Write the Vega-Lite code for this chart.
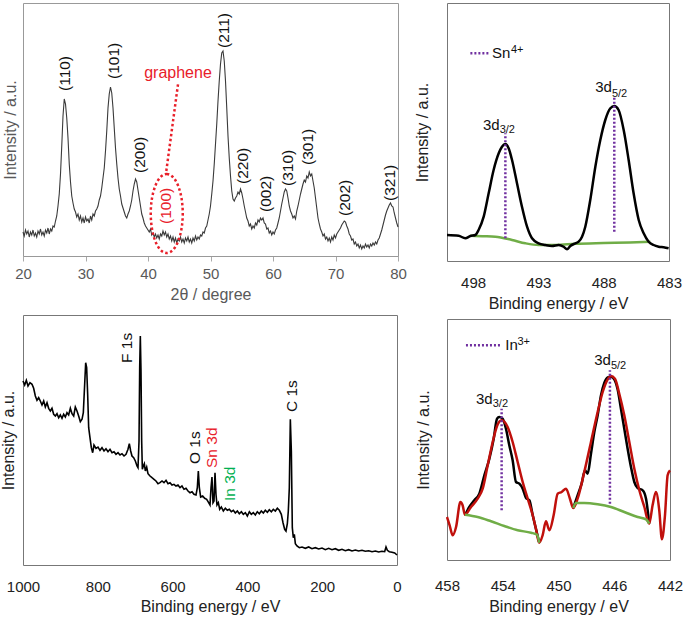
{
"$schema": "https://vega.github.io/schema/vega-lite/v6.json",
"padding": {"left": 0, "top": 2, "right": 0, "bottom": 0},
"background": "white",
"config": {
  "font": "Liberation Sans",
  "view": {"stroke": "#777", "strokeWidth": 1},
  "axis": {"labelFontSize": 15, "titleFontSize": 16, "titleFontWeight": "normal", "labelColor": "#222", "titleColor": "#222", "grid": false, "labelFlush": false, "labelOverlap": false}
},
"datasets": {
  "xrd": [
{"x":20.0,"y":24},{"x":20.2,"y":20},{"x":20.4,"y":26},{"x":20.6,"y":22},{"x":20.8,"y":25},{"x":21.0,"y":19},{"x":21.2,"y":24},{"x":21.4,"y":21},{"x":21.6,"y":26},{"x":21.8,"y":20},
{"x":22.0,"y":23},{"x":22.2,"y":19},{"x":22.4,"y":25},{"x":22.6,"y":22},{"x":22.8,"y":27},{"x":23.0,"y":21},{"x":23.2,"y":24},{"x":23.4,"y":20},{"x":23.6,"y":26},{"x":23.8,"y":23},
{"x":24.0,"y":28},{"x":24.2,"y":22},{"x":24.4,"y":27},{"x":24.6,"y":25},{"x":24.8,"y":30},{"x":25.0,"y":29},{"x":25.2,"y":35},{"x":25.4,"y":40},{"x":25.6,"y":50},{"x":25.8,"y":62},
{"x":26.0,"y":82},{"x":26.2,"y":110},{"x":26.4,"y":140},{"x":26.6,"y":157},{"x":26.8,"y":152},{"x":27.0,"y":138},{"x":27.2,"y":118},{"x":27.4,"y":92},{"x":27.6,"y":74},{"x":27.8,"y":60},
{"x":28.0,"y":53},{"x":28.2,"y":47},{"x":28.4,"y":44},{"x":28.6,"y":39},{"x":28.8,"y":42},{"x":29.0,"y":36},{"x":29.2,"y":40},{"x":29.4,"y":34},{"x":29.6,"y":38},{"x":29.8,"y":33},
{"x":30.0,"y":39},{"x":30.2,"y":35},{"x":30.4,"y":37},{"x":30.6,"y":33},{"x":30.8,"y":40},{"x":31.0,"y":36},{"x":31.2,"y":42},{"x":31.4,"y":40},{"x":31.6,"y":45},{"x":31.8,"y":47},
{"x":32.0,"y":50},{"x":32.2,"y":56},{"x":32.4,"y":60},{"x":32.6,"y":68},{"x":32.8,"y":78},{"x":33.0,"y":88},{"x":33.2,"y":105},{"x":33.4,"y":125},{"x":33.6,"y":148},{"x":33.8,"y":162},
{"x":34.0,"y":169},{"x":34.2,"y":163},{"x":34.4,"y":148},{"x":34.6,"y":128},{"x":34.8,"y":108},{"x":35.0,"y":92},{"x":35.2,"y":78},{"x":35.4,"y":67},{"x":35.6,"y":60},{"x":35.8,"y":52},
{"x":36.0,"y":48},{"x":36.2,"y":44},{"x":36.4,"y":40},{"x":36.6,"y":38},{"x":36.8,"y":42},{"x":37.0,"y":45},{"x":37.2,"y":50},{"x":37.4,"y":56},{"x":37.6,"y":65},{"x":37.8,"y":72},
{"x":38.0,"y":77},{"x":38.2,"y":74},{"x":38.4,"y":66},{"x":38.6,"y":58},{"x":38.8,"y":50},{"x":39.0,"y":42},{"x":39.2,"y":38},{"x":39.4,"y":33},{"x":39.6,"y":30},{"x":39.8,"y":28},
{"x":40.0,"y":26},{"x":40.2,"y":24},{"x":40.4,"y":27},{"x":40.6,"y":21},{"x":40.8,"y":23},{"x":41.0,"y":19},{"x":41.2,"y":22},{"x":41.4,"y":18},{"x":41.6,"y":21},{"x":41.8,"y":17},
{"x":42.0,"y":22},{"x":42.2,"y":20},{"x":42.4,"y":25},{"x":42.6,"y":21},{"x":42.8,"y":24},{"x":43.0,"y":19},{"x":43.2,"y":22},{"x":43.4,"y":17},{"x":43.6,"y":20},{"x":43.8,"y":15},
{"x":44.0,"y":19},{"x":44.2,"y":14},{"x":44.4,"y":18},{"x":44.6,"y":13},{"x":44.8,"y":17},{"x":45.0,"y":15},{"x":45.2,"y":19},{"x":45.4,"y":14},{"x":45.6,"y":17},{"x":45.8,"y":13},
{"x":46.0,"y":18},{"x":46.2,"y":15},{"x":46.4,"y":19},{"x":46.6,"y":14},{"x":46.8,"y":17},{"x":47.0,"y":13},{"x":47.2,"y":18},{"x":47.4,"y":15},{"x":47.6,"y":20},{"x":47.8,"y":16},
{"x":48.0,"y":19},{"x":48.2,"y":17},{"x":48.4,"y":21},{"x":48.6,"y":20},{"x":48.8,"y":24},{"x":49.0,"y":23},{"x":49.2,"y":28},{"x":49.4,"y":30},{"x":49.6,"y":36},{"x":49.8,"y":42},
{"x":50.0,"y":50},{"x":50.2,"y":62},{"x":50.4,"y":75},{"x":50.6,"y":92},{"x":50.8,"y":112},{"x":51.0,"y":132},{"x":51.2,"y":155},{"x":51.4,"y":175},{"x":51.6,"y":192},{"x":51.8,"y":203},
{"x":52.0,"y":205},{"x":52.2,"y":195},{"x":52.4,"y":175},{"x":52.6,"y":148},{"x":52.8,"y":120},{"x":53.0,"y":98},{"x":53.2,"y":80},{"x":53.4,"y":65},{"x":53.6,"y":57},{"x":53.8,"y":55},
{"x":54.0,"y":58},{"x":54.2,"y":60},{"x":54.4,"y":64},{"x":54.6,"y":62},{"x":54.8,"y":67},{"x":55.0,"y":63},{"x":55.2,"y":57},{"x":55.4,"y":50},{"x":55.6,"y":44},{"x":55.8,"y":38},
{"x":56.0,"y":35},{"x":56.2,"y":30},{"x":56.4,"y":32},{"x":56.6,"y":27},{"x":56.8,"y":30},{"x":57.0,"y":28},{"x":57.2,"y":33},{"x":57.4,"y":31},{"x":57.6,"y":36},{"x":57.8,"y":34},
{"x":58.0,"y":38},{"x":58.2,"y":36},{"x":58.4,"y":38},{"x":58.6,"y":33},{"x":58.8,"y":32},{"x":59.0,"y":27},{"x":59.2,"y":28},{"x":59.4,"y":23},{"x":59.6,"y":25},{"x":59.8,"y":21},
{"x":60.0,"y":24},{"x":60.2,"y":22},{"x":60.4,"y":26},{"x":60.6,"y":28},{"x":60.8,"y":33},{"x":61.0,"y":38},{"x":61.2,"y":45},{"x":61.4,"y":52},{"x":61.6,"y":58},{"x":61.8,"y":64},
{"x":62.0,"y":67},{"x":62.2,"y":65},{"x":62.4,"y":58},{"x":62.6,"y":50},{"x":62.8,"y":45},{"x":63.0,"y":42},{"x":63.2,"y":38},{"x":63.4,"y":40},{"x":63.6,"y":37},{"x":63.8,"y":45},
{"x":64.0,"y":50},{"x":64.2,"y":56},{"x":64.4,"y":62},{"x":64.6,"y":67},{"x":64.8,"y":72},{"x":65.0,"y":76},{"x":65.2,"y":74},{"x":65.4,"y":80},{"x":65.6,"y":78},{"x":65.8,"y":84},
{"x":66.0,"y":80},{"x":66.2,"y":82},{"x":66.4,"y":75},{"x":66.6,"y":68},{"x":66.8,"y":58},{"x":67.0,"y":48},{"x":67.2,"y":38},{"x":67.4,"y":32},{"x":67.6,"y":27},{"x":67.8,"y":24},
{"x":68.0,"y":20},{"x":68.2,"y":22},{"x":68.4,"y":17},{"x":68.6,"y":19},{"x":68.8,"y":15},{"x":69.0,"y":18},{"x":69.2,"y":14},{"x":69.4,"y":19},{"x":69.6,"y":16},{"x":69.8,"y":21},
{"x":70.0,"y":18},{"x":70.2,"y":22},{"x":70.4,"y":24},{"x":70.6,"y":26},{"x":70.8,"y":28},{"x":71.0,"y":31},{"x":71.2,"y":33},{"x":71.4,"y":35},{"x":71.6,"y":34},{"x":71.8,"y":30},
{"x":72.0,"y":27},{"x":72.2,"y":22},{"x":72.4,"y":20},{"x":72.6,"y":16},{"x":72.8,"y":17},{"x":73.0,"y":12},{"x":73.2,"y":14},{"x":73.4,"y":10},{"x":73.6,"y":12},{"x":73.8,"y":8},
{"x":74.0,"y":11},{"x":74.2,"y":7},{"x":74.4,"y":10},{"x":74.6,"y":8},{"x":74.8,"y":12},{"x":75.0,"y":9},{"x":75.2,"y":11},{"x":75.4,"y":8},{"x":75.6,"y":12},{"x":75.8,"y":10},
{"x":76.0,"y":13},{"x":76.2,"y":11},{"x":76.4,"y":14},{"x":76.6,"y":12},{"x":76.8,"y":16},{"x":77.0,"y":18},{"x":77.2,"y":22},{"x":77.4,"y":26},{"x":77.6,"y":31},{"x":77.8,"y":36},
{"x":78.0,"y":41},{"x":78.2,"y":45},{"x":78.4,"y":48},{"x":78.6,"y":51},{"x":78.8,"y":53},{"x":79.0,"y":50},{"x":79.2,"y":49},{"x":79.4,"y":43},{"x":79.6,"y":38},{"x":79.8,"y":33},{"x":80.0,"y":29}
  ],
  "xrdLabels": [
{"x":26.67,"y":165,"s":"(110)"},{"x":34.5,"y":177,"s":"(101)"},{"x":38.67,"y":83,"s":"(200)"},{"x":52.1,"y":208,"s":"(211)"},{"x":55.2,"y":72,"s":"(220)"},
{"x":58.8,"y":44,"s":"(002)"},{"x":62.4,"y":70,"s":"(310)"},{"x":65.6,"y":91,"s":"(301)"},{"x":71.47,"y":40,"s":"(202)"},{"x":78.67,"y":55,"s":"(321)"}
  ],
  "survey": [
{"x":1000.0,"y":184},{"x":995.5,"y":180},{"x":991.1,"y":184.7},{"x":986.6,"y":179},{"x":981.3,"y":182.3},{"x":975.9,"y":180.7},{"x":971.5,"y":176.7},{"x":967.0,"y":169},{"x":962.6,"y":164.7},{"x":958.1,"y":167.3},
{"x":953.7,"y":164},{"x":949.2,"y":160},{"x":944.7,"y":164},{"x":940.3,"y":158},{"x":935.8,"y":162.3},{"x":931.4,"y":156.7},{"x":926.9,"y":154},{"x":922.5,"y":156.7},{"x":918.0,"y":150.7},{"x":913.5,"y":149},
{"x":909.1,"y":151.3},{"x":904.6,"y":147.3},{"x":900.2,"y":150},{"x":895.7,"y":146.7},{"x":891.3,"y":150.7},{"x":886.8,"y":148},{"x":882.4,"y":152.3},{"x":877.9,"y":150},{"x":873.4,"y":156.7},{"x":869.0,"y":151.3},
{"x":864.5,"y":149},{"x":860.1,"y":158},{"x":855.6,"y":154},{"x":851.2,"y":149},{"x":846.7,"y":143.3},{"x":842.2,"y":145.7},{"x":838.7,"y":152.3},{"x":835.1,"y":180.7},{"x":832.4,"y":202.3},{"x":829.8,"y":197.3},
{"x":827.1,"y":170.7},{"x":824.4,"y":137.3},{"x":820.9,"y":127.3},{"x":817.3,"y":117.3},{"x":813.7,"y":112.3},{"x":810.2,"y":120},{"x":804.8,"y":116.7},{"x":799.5,"y":118},{"x":794.1,"y":114.7},{"x":788.8,"y":117.3},
{"x":783.4,"y":114},{"x":778.1,"y":116.3},{"x":772.7,"y":113.3},{"x":767.4,"y":115.7},{"x":762.0,"y":112.3},{"x":756.7,"y":113.3},{"x":751.3,"y":110.7},{"x":746.0,"y":112.3},{"x":740.6,"y":110},{"x":735.3,"y":111.3},
{"x":729.9,"y":109},{"x":724.6,"y":110.7},{"x":719.3,"y":115.7},{"x":715.7,"y":121.3},{"x":712.1,"y":114},{"x":708.6,"y":109},{"x":704.1,"y":107.3},{"x":699.6,"y":104},{"x":695.2,"y":99},{"x":692.5,"y":97.3},
{"x":689.8,"y":124},{"x":688.0,"y":197.3},{"x":686.3,"y":229},{"x":684.5,"y":194},{"x":682.7,"y":124},{"x":680.9,"y":95.7},{"x":678.3,"y":99},{"x":675.6,"y":101.3},{"x":672.9,"y":94},{"x":669.3,"y":98},
{"x":665.8,"y":91.3},{"x":660.4,"y":89},{"x":655.1,"y":87.3},{"x":649.7,"y":85.7},{"x":644.4,"y":84},{"x":639.0,"y":81.3},{"x":633.7,"y":82.3},{"x":628.3,"y":84},{"x":623.0,"y":82.3},{"x":617.6,"y":84.7},
{"x":612.3,"y":81.3},{"x":606.9,"y":82.3},{"x":601.6,"y":80},{"x":596.3,"y":80.7},{"x":590.9,"y":79},{"x":585.6,"y":80},{"x":580.2,"y":77.3},{"x":574.9,"y":79},{"x":569.5,"y":75.7},{"x":564.2,"y":76.7},
{"x":558.8,"y":74},{"x":553.5,"y":72.3},{"x":548.1,"y":73.3},{"x":542.8,"y":70.7},{"x":537.4,"y":70},{"x":533.9,"y":77.3},{"x":531.2,"y":94},{"x":528.5,"y":77.3},{"x":525.0,"y":68},{"x":519.6,"y":69},
{"x":514.3,"y":66.7},{"x":508.9,"y":65.7},{"x":503.6,"y":62.3},{"x":500.0,"y":60},{"x":497.3,"y":77.3},{"x":494.7,"y":88},{"x":492.0,"y":62.3},{"x":489.3,"y":64},{"x":486.6,"y":92.3},{"x":484.0,"y":70.7},
{"x":481.3,"y":60},{"x":477.7,"y":62.3},{"x":474.1,"y":55.7},{"x":469.7,"y":58},{"x":464.3,"y":54},{"x":459.0,"y":56.7},{"x":453.7,"y":54.7},{"x":448.3,"y":55.7},{"x":443.0,"y":53.3},{"x":437.6,"y":54.7},
{"x":432.3,"y":52},{"x":426.9,"y":54},{"x":421.6,"y":51.3},{"x":416.2,"y":53.3},{"x":410.9,"y":50.7},{"x":405.5,"y":52.3},{"x":400.2,"y":49},{"x":394.8,"y":53.3},{"x":389.5,"y":50.7},{"x":384.2,"y":52.3},
{"x":378.8,"y":50},{"x":373.5,"y":53.3},{"x":368.1,"y":51.3},{"x":362.8,"y":54},{"x":357.4,"y":52},{"x":352.1,"y":54.7},{"x":346.7,"y":52.7},{"x":341.4,"y":55.3},{"x":336.0,"y":53.3},{"x":330.7,"y":55.7},
{"x":325.3,"y":54},{"x":320.0,"y":56.7},{"x":314.6,"y":54.7},{"x":309.3,"y":50.7},{"x":304.8,"y":42.3},{"x":300.4,"y":35.7},{"x":296.8,"y":34},{"x":293.2,"y":41.3},{"x":290.6,"y":54},{"x":287.9,"y":77.3},
{"x":285.2,"y":145.7},{"x":282.5,"y":114},{"x":279.9,"y":37.3},{"x":277.2,"y":27.3},{"x":274.5,"y":30.7},{"x":271.8,"y":21.3},{"x":267.4,"y":19},{"x":261.1,"y":17.3},{"x":254.0,"y":18},{"x":245.1,"y":16.7},
{"x":236.2,"y":18},{"x":227.3,"y":16.3},{"x":218.4,"y":17.3},{"x":209.4,"y":16},{"x":200.5,"y":17},{"x":191.6,"y":15.3},{"x":182.7,"y":16.7},{"x":173.8,"y":15.3},{"x":164.9,"y":16.3},{"x":156.0,"y":14.7},
{"x":147.1,"y":15.7},{"x":138.2,"y":14.3},{"x":129.2,"y":15.3},{"x":120.3,"y":14},{"x":111.4,"y":15},{"x":102.5,"y":14},{"x":93.6,"y":14.7},{"x":84.7,"y":13.7},{"x":75.8,"y":14.3},{"x":66.8,"y":13.3},
{"x":57.9,"y":14},{"x":49.0,"y":13},{"x":40.1,"y":13.7},{"x":33.0,"y":13.3},{"x":29.4,"y":18},{"x":25.8,"y":14.7},{"x":20.5,"y":13.3},{"x":13.4,"y":12.7},{"x":6.2,"y":12},{"x":0.0,"y":10}
  ],
  "surveyLabels": [
{"x":721.9,"y":202,"s":"F 1s","c":"k"},{"x":539.2,"y":101,"s":"O 1s","c":"k"},{"x":494.7,"y":97,"s":"Sn 3d","c":"r"},{"x":445.6,"y":64,"s":"In 3d","c":"g"},{"x":280.7,"y":153,"s":"C 1s","c":"k"}
  ],
  "sn": [
{"x":500.0,"y":26},{"x":499.11,"y":25.3},{"x":498.6,"y":22.7},{"x":498.21,"y":25},{"x":497.83,"y":26},{"x":497.58,"y":31},{"x":497.19,"y":44.3},{"x":496.81,"y":67.7},{"x":496.43,"y":91},{"x":496.04,"y":107.7},
{"x":495.79,"y":114.3},{"x":495.53,"y":117},{"x":495.28,"y":112.7},{"x":495.02,"y":101},{"x":494.64,"y":77.7},{"x":494.26,"y":54.3},{"x":493.87,"y":34.3},{"x":493.49,"y":22.7},{"x":492.98,"y":17.7},{"x":492.47,"y":16},
{"x":491.96,"y":15},{"x":491.45,"y":16},{"x":491.07,"y":14.3},{"x":490.81,"y":11.7},{"x":490.56,"y":15},{"x":490.17,"y":17.7},{"x":489.92,"y":19.3},{"x":489.66,"y":24.3},{"x":489.41,"y":34.3},{"x":489.03,"y":61},
{"x":488.64,"y":94.3},{"x":488.26,"y":121},{"x":487.88,"y":141},{"x":487.49,"y":152.7},{"x":487.19,"y":155},{"x":486.86,"y":151},{"x":486.47,"y":131},{"x":486.09,"y":101},{"x":485.71,"y":67.7},{"x":485.32,"y":41},
{"x":484.94,"y":27.7},{"x":484.56,"y":19.3},{"x":484.18,"y":16},{"x":483.79,"y":14.3},{"x":483.41,"y":13.7},{"x":483.03,"y":12.7}
  ],
  "snBg": [
{"x":498.21,"y":25.3},{"x":497.3,"y":24.8},{"x":496.3,"y":24.3},{"x":495.02,"y":21},{"x":494.0,"y":17.7},{"x":492.98,"y":16},{"x":491.7,"y":16},{"x":490.17,"y":17.2},{"x":488.0,"y":18},{"x":486.0,"y":18.6},{"x":484.43,"y":19.3}
  ],
  "snRules": [{"x":495.53,"y":22.7,"y2":127.7},{"x":487.19,"y":29.3,"y2":164.3}],
  "snLeg": [{"x":498.21,"x2":496.81,"y":207.7}],
  "snMain": [{"x":495.97,"y":131,"s":"3d"},{"x":487.37,"y":169.3,"s":"3d"}],
  "snSub": [{"x":495.97,"y":127.7,"s":"3/2"},{"x":487.37,"y":164.3,"s":"5/2"},{"x":495.1,"y":207.7,"s":"4+"}],
  "snLegText": [{"x":496.55,"y":202.7,"s":"Sn"}],
  "inRed": [
{"x":458.0,"y":43},{"x":457.81,"y":34.7},{"x":457.59,"y":24.7},{"x":457.35,"y":33},{"x":457.04,"y":58},{"x":456.88,"y":54.7},{"x":456.71,"y":45.3},{"x":456.28,"y":53},{"x":455.8,"y":61.3},{"x":455.44,"y":71.3},
{"x":455.08,"y":94.7},{"x":454.72,"y":118},{"x":454.41,"y":134},{"x":454.08,"y":139.7},{"x":453.65,"y":133},{"x":453.29,"y":118},{"x":452.93,"y":98},{"x":452.57,"y":78},{"x":452.21,"y":61.3},{"x":451.85,"y":44.7},
{"x":451.62,"y":31.3},{"x":451.38,"y":17.3},{"x":451.14,"y":24.7},{"x":450.9,"y":38.7},{"x":450.66,"y":29.7},{"x":450.35,"y":44.7},{"x":450.06,"y":66.3},{"x":449.77,"y":68},{"x":449.46,"y":71.3},{"x":449.18,"y":61.3},
{"x":448.94,"y":52},{"x":448.63,"y":61.3},{"x":448.15,"y":88},{"x":447.67,"y":118},{"x":447.19,"y":148},{"x":446.83,"y":168},{"x":446.47,"y":180.7},{"x":446.24,"y":184},{"x":445.95,"y":181.3},{"x":445.64,"y":166.3},
{"x":445.28,"y":144.7},{"x":444.92,"y":118},{"x":444.56,"y":91.3},{"x":444.2,"y":69.7},{"x":443.84,"y":53},{"x":443.49,"y":36.3},{"x":443.25,"y":54.7},{"x":443.01,"y":68},{"x":442.77,"y":49.7},{"x":442.58,"y":20.7},
{"x":442.36,"y":44.7},{"x":442.17,"y":84.7},{"x":442.0,"y":89.7}
  ],
  "inBlack": [
{"x":456.71,"y":44.7,"g":1},{"x":456.4,"y":53,"g":1},{"x":456.04,"y":59.7,"g":1},{"x":455.68,"y":66.3,"g":1},{"x":455.32,"y":84.7,"g":1},{"x":454.96,"y":101.3,"g":1},{"x":454.65,"y":121.3,"g":1},{"x":454.41,"y":141.3,"g":1},{"x":454.25,"y":143,"g":1},{"x":454.01,"y":141.3,"g":1},
{"x":453.77,"y":131.3,"g":1},{"x":453.53,"y":114.7,"g":1},{"x":453.29,"y":99.7,"g":1},{"x":453.05,"y":78,"g":1},{"x":452.81,"y":76.3,"g":1},{"x":452.57,"y":71.3,"g":1},{"x":452.33,"y":62,"g":1},{"x":452.09,"y":59.7,"g":1},{"x":451.85,"y":44.7,"g":1},{"x":451.62,"y":31.3,"g":1},{"x":451.38,"y":17.3,"g":1},
{"x":448.94,"y":52,"g":2},{"x":448.63,"y":64.7,"g":2},{"x":448.34,"y":76.3,"g":2},{"x":448.1,"y":89.7,"g":2},{"x":447.91,"y":86.3,"g":2},{"x":447.67,"y":106.3,"g":2},{"x":447.43,"y":128,"g":2},{"x":447.19,"y":144.7,"g":2},{"x":446.95,"y":164.7,"g":2},{"x":446.71,"y":177.3,"g":2},
{"x":446.47,"y":182.7,"g":2},{"x":446.24,"y":183.3,"g":2},{"x":446.0,"y":180.7,"g":2},{"x":445.76,"y":170.7,"g":2},{"x":445.52,"y":151.3,"g":2},{"x":445.28,"y":131.3,"g":2},{"x":445.04,"y":111.3,"g":2},{"x":444.8,"y":93,"g":2},{"x":444.56,"y":78,"g":2},{"x":444.32,"y":72,"g":2},
{"x":443.96,"y":69.7,"g":2},{"x":443.72,"y":61.3,"g":2},{"x":443.49,"y":36.3,"g":2}
  ],
  "inBg": [
{"x":456.71,"y":45.3,"g":1},{"x":455.8,"y":43,"g":1},{"x":454.84,"y":38.7,"g":1},{"x":453.89,"y":34,"g":1},{"x":452.93,"y":29.7,"g":1},{"x":451.97,"y":27.3,"g":1},{"x":451.54,"y":25.3,"g":1},{"x":451.38,"y":17.3,"g":1},
{"x":448.94,"y":52,"g":2},{"x":448.75,"y":57,"g":2},{"x":448.15,"y":57,"g":2},{"x":447.19,"y":55.7,"g":2},{"x":446.24,"y":53,"g":2},{"x":445.28,"y":48,"g":2},{"x":444.32,"y":43,"g":2},{"x":443.72,"y":40.7,"g":2},{"x":443.49,"y":36.3,"g":2}
  ],
  "inRules": [{"x":454.08,"y":49.7,"y2":151.3},{"x":446.31,"y":56.3,"y2":189.7}],
  "inLeg": [{"x":456.64,"x2":454.13,"y":214.7}],
  "inMain": [{"x":454.72,"y":156.3,"s":"3d"},{"x":446.24,"y":194.7,"s":"3d"}],
  "inSub": [{"x":454.72,"y":153,"s":"3/2"},{"x":446.24,"y":191.3,"s":"5/2"},{"x":452.95,"y":215.3,"s":"3+"}],
  "inLegText": [{"x":453.82,"y":209.7,"s":"In"}]
},
"hconcat": [
  {
    "spacing": 11,
    "vconcat": [
      {
        "width": 375, "height": 253,
        "view": {"stroke": "#999"},
        "encoding": {
          "x": {"field": "x", "type": "quantitative", "scale": {"domain": [20, 80], "nice": false, "zero": false},
                "axis": {"title": "2θ / degree", "values": [20, 30, 40, 50, 60, 70, 80], "tickSize": 5, "tickColor": "#aaa", "domainColor": "#999", "labelPadding": 5, "titlePadding": 5, "labelColor": "#595959", "titleColor": "#595959"}},
          "y": {"field": "y", "type": "quantitative", "scale": {"domain": [0, 253], "nice": false},
                "axis": {"title": "Intensity / a.u.", "labels": false, "ticks": false, "domain": false, "titlePadding": 4.5, "titleColor": "#595959"}}
        },
        "layer": [
          {"data": {"name": "xrd"}, "mark": {"type": "line", "color": "#3a3a3a", "strokeWidth": 1.1}},
          {"data": {"name": "xrdLabels"}, "mark": {"type": "text", "angle": 270, "align": "left", "baseline": "middle", "fontSize": 15.5, "color": "#111"}, "encoding": {"text": {"field": "s"}}},
          {"data": {"values": [{"x": 42.93, "y": 85}, {"x": 44.8, "y": 171.7}]}, "mark": {"type": "line", "color": "#e8202a", "strokeWidth": 2.5, "strokeDash": [2.5, 2.5]}},
          {"data": {"values": [{"x": 43.0, "y": 42.5}]}, "mark": {"type": "point", "shape": "M 0 -1 A 0.405 1 0 1 1 0 1 A 0.405 1 0 1 1 0 -1 Z", "size": 6241, "filled": false, "stroke": "#e8202a", "strokeWidth": 2.5, "strokeDash": [2.5, 2.5], "opacity": 1}},
          {"data": {"values": [{"x": 42.93, "y": 32, "s": "(100)"}]}, "mark": {"type": "text", "angle": 270, "align": "left", "baseline": "middle", "fontSize": 15.5, "color": "#e8202a"}, "encoding": {"text": {"field": "s"}}},
          {"data": {"values": [{"x": 44.8, "y": 183, "s": "graphene"}]}, "mark": {"type": "text", "align": "center", "baseline": "middle", "fontSize": 16, "color": "#e8202a"}, "encoding": {"text": {"field": "s"}}}
        ]
      },
      {
        "width": 374, "height": 250,
        "encoding": {
          "x": {"field": "x", "type": "quantitative", "scale": {"domain": [0, 1000], "reverse": true, "nice": false},
                "axis": {"title": "Binding energy / eV", "format": "d", "values": [1000, 800, 600, 400, 200, 0], "ticks": false, "domain": false, "labelPadding": 14, "titlePadding": 4}},
          "y": {"field": "y", "type": "quantitative", "scale": {"domain": [0, 250], "nice": false},
                "axis": {"title": "Intensity / a.u.", "labels": false, "ticks": false, "domain": false, "titlePadding": 6.5}}
        },
        "layer": [
          {"data": {"name": "survey"}, "mark": {"type": "line", "color": "#000", "strokeWidth": 1.6}},
          {"data": {"name": "surveyLabels"}, "mark": {"type": "text", "angle": 270, "align": "left", "baseline": "middle", "fontSize": 15.5},
           "encoding": {"text": {"field": "s"}, "color": {"field": "c", "type": "nominal", "scale": {"domain": ["k", "r", "g"], "range": ["#111111", "#e8202a", "#00b050"]}, "legend": null}}}
        ]
      }
    ]
  },
  {
    "spacing": 6,
    "vconcat": [
      {
        "width": 222, "height": 258,
        "encoding": {
          "x": {"field": "x", "type": "quantitative", "scale": {"domain": [483, 500], "reverse": true, "nice": false, "zero": false},
                "axis": {"title": "Binding energy / eV", "values": [498, 493, 488, 483], "ticks": false, "domain": false, "labelPadding": 14, "titlePadding": 5}},
          "y": {"field": "y", "type": "quantitative", "scale": {"domain": [0, 258], "nice": false},
                "axis": {"title": "Intensity / a.u.", "labels": false, "ticks": false, "domain": false, "titlePadding": 17}}
        },
        "layer": [
          {"data": {"name": "snBg"}, "mark": {"type": "line", "color": "#70ad47", "strokeWidth": 2.5, "interpolate": "monotone"}},
          {"data": {"name": "sn"}, "mark": {"type": "line", "color": "#000", "strokeWidth": 2.5, "interpolate": "monotone"}},
          {"data": {"name": "snRules"}, "mark": {"type": "rule", "color": "#7030a0", "strokeWidth": 2.5, "strokeDash": [2, 2]}, "encoding": {"y2": {"field": "y2"}}},
          {"data": {"name": "snLeg"}, "mark": {"type": "rule", "color": "#7030a0", "strokeWidth": 2.5, "strokeDash": [2, 2]}, "encoding": {"x2": {"field": "x2"}}},
          {"data": {"name": "snMain"}, "mark": {"type": "text", "align": "right", "baseline": "alphabetic", "fontSize": 15, "color": "#111"}, "encoding": {"text": {"field": "s"}}},
          {"data": {"name": "snSub"}, "mark": {"type": "text", "align": "left", "baseline": "alphabetic", "fontSize": 11, "color": "#111"}, "encoding": {"text": {"field": "s"}}},
          {"data": {"name": "snLegText"}, "mark": {"type": "text", "align": "left", "baseline": "alphabetic", "fontSize": 15, "color": "#111"}, "encoding": {"text": {"field": "s"}}}
        ]
      },
      {
        "width": 223, "height": 241,
        "encoding": {
          "x": {"field": "x", "type": "quantitative", "scale": {"domain": [442, 458], "reverse": true, "nice": false, "zero": false},
                "axis": {"title": "Binding energy / eV", "values": [458, 454, 450, 446, 442], "ticks": false, "domain": false, "labelPadding": 18, "titlePadding": 5}},
          "y": {"field": "y", "type": "quantitative", "scale": {"domain": [0, 241], "nice": false},
                "axis": {"title": "Intensity / a.u.", "labels": false, "ticks": false, "domain": false, "titlePadding": 15.5}}
        },
        "layer": [
          {"data": {"name": "inBlack"}, "mark": {"type": "line", "color": "#000", "strokeWidth": 2.5, "interpolate": "monotone"}, "encoding": {"detail": {"field": "g"}}},
          {"data": {"name": "inRed"}, "mark": {"type": "line", "color": "#c0100c", "strokeWidth": 2.5, "interpolate": "monotone"}},
          {"data": {"name": "inBg"}, "mark": {"type": "line", "color": "#70ad47", "strokeWidth": 2.5, "interpolate": "monotone"}, "encoding": {"detail": {"field": "g"}}},
          {"data": {"name": "inRules"}, "mark": {"type": "rule", "color": "#7030a0", "strokeWidth": 2.5, "strokeDash": [2, 2]}, "encoding": {"y2": {"field": "y2"}}},
          {"data": {"name": "inLeg"}, "mark": {"type": "rule", "color": "#7030a0", "strokeWidth": 2.5, "strokeDash": [2, 2]}, "encoding": {"x2": {"field": "x2"}}},
          {"data": {"name": "inMain"}, "mark": {"type": "text", "align": "right", "baseline": "alphabetic", "fontSize": 15, "color": "#111"}, "encoding": {"text": {"field": "s"}}},
          {"data": {"name": "inSub"}, "mark": {"type": "text", "align": "left", "baseline": "alphabetic", "fontSize": 11, "color": "#111"}, "encoding": {"text": {"field": "s"}}},
          {"data": {"name": "inLegText"}, "mark": {"type": "text", "align": "left", "baseline": "alphabetic", "fontSize": 15, "color": "#111"}, "encoding": {"text": {"field": "s"}}}
        ]
      }
    ]
  }
],
"spacing": 6
}
